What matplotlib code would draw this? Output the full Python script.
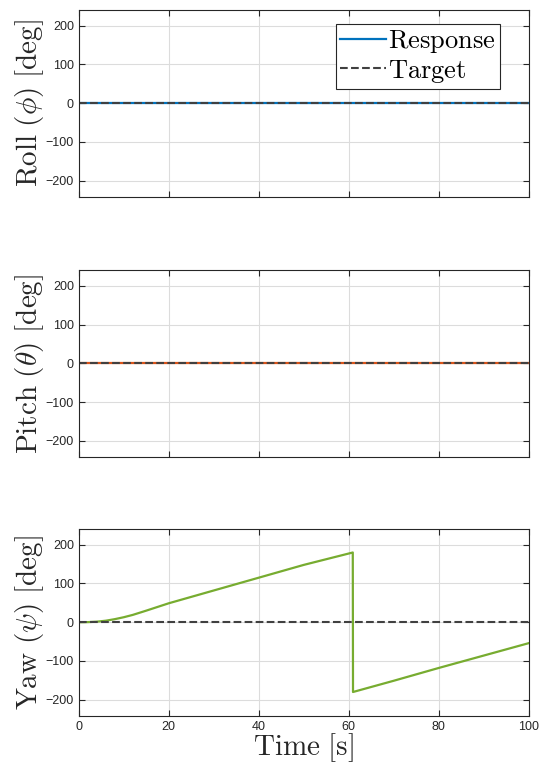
import numpy as np
import matplotlib
matplotlib.use("Agg")
import matplotlib.pyplot as plt

plt.rcParams['mathtext.fontset'] = 'cm'
plt.rcParams['font.family'] = ['Liberation Sans', 'DejaVu Sans']

# data
t_roll = [0, 100]
roll = [0, 0]
t_pitch = [0, 100]
pitch = [0, 0]
t_yaw = [0, 2, 4, 6, 8, 10, 12, 15, 20, 30, 40, 50, 60.9, 60.95, 70, 80, 90, 100]
yaw = [0, 0.3, 1.5, 4, 8, 13, 19, 30, 49, 82, 115, 148, 180, -180, -151, -118, -86, -54]
t_target = [0, 100]
target = [0, 0]

xticks = [0, 20, 40, 60, 80, 100]
yticks = [-200, -100, 0, 100, 200]
ylabels = [r'$\mathrm{Roll}\ (\phi)\ [\mathrm{deg}]$',
           r'$\mathrm{Pitch}\ (\theta)\ [\mathrm{deg}]$',
           r'$\mathrm{Yaw}\ (\psi)\ [\mathrm{deg}]$']
colors = ['#0072BD', '#D95319', '#77AC30']

fig = plt.figure(figsize=(5.4, 7.75), dpi=100)
bottoms = [0.746, 0.410, 0.0761]
series = [(t_roll, roll), (t_pitch, pitch), (t_yaw, yaw)]

for i in range(3):
    ax = fig.add_axes([0.146, bottoms[i], 0.833, 0.241])
    tx, ty = series[i]
    ax.plot(tx, ty, color=colors[i], lw=1.6, label=r'$\mathrm{Response}$')
    ax.plot(t_target, target, '--', color='#404040', lw=1.5, label=r'$\mathrm{Target}$')
    ax.set_xlim(0, 100)
    ax.set_ylim(-242, 240)
    ax.set_xticks(xticks)
    ax.set_yticks(yticks)
    ax.grid(True, color='#dcdcdc', lw=0.8)
    ax.set_axisbelow(True)
    ax.tick_params(direction='in', top=True, right=True, length=4,
                   labelsize=9, colors='#262626', width=0.8)
    for s in ax.spines.values():
        s.set_color('#262626')
        s.set_linewidth(0.8)
    ax.set_ylabel(ylabels[i], fontsize=21, color='#262626', labelpad=0)
    if i < 2:
        ax.set_xticklabels([])
    else:
        ax.set_xlabel(r'$\mathrm{Time}\ [\mathrm{s}]$', fontsize=21,
                      color='#262626', labelpad=-1)
    if i == 0:
        leg = ax.legend(loc='upper right', bbox_to_anchor=(0.936, 0.925),
                        fancybox=False, edgecolor='#262626', framealpha=1,
                        borderpad=0.15, handlelength=1.75, handletextpad=0.1,
                        labelspacing=0.1, borderaxespad=0, fontsize=19)
        leg.get_frame().set_linewidth(0.8)

fig.savefig('out.png', dpi=100)
